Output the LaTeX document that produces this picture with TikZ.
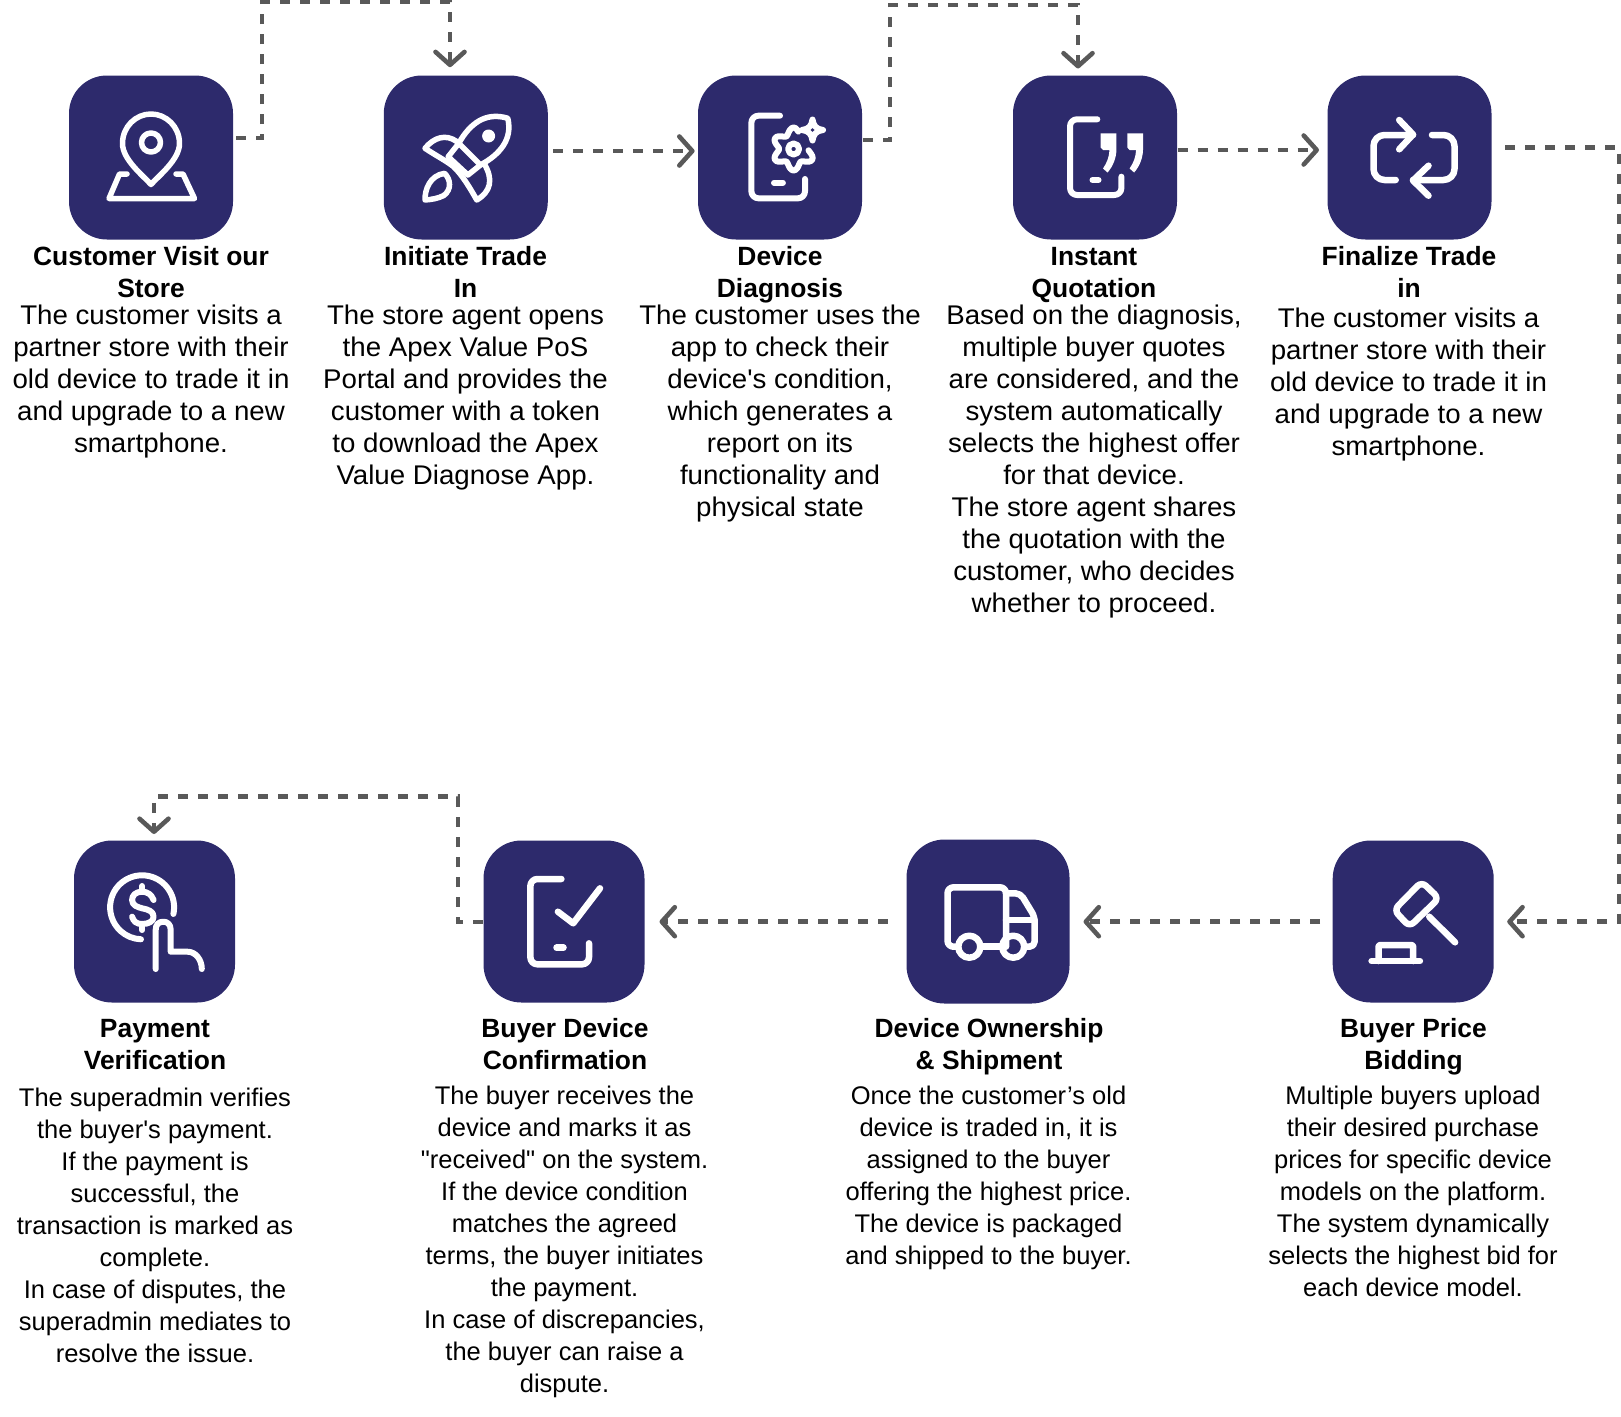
\documentclass[tikz,border=0pt]{standalone}
\usepackage{fontspec}
\setmainfont{Liberation Sans}[Ligatures=TeXOff]
\usetikzlibrary{arrows.meta}
\definecolor{navy}{HTML}{2D2A6C}
\definecolor{linkgrey}{HTML}{595959}
\tikzset{
  card/.style={fill=navy,rounded corners=38pt,inner sep=0pt,outer sep=0pt},
  icon/.style={draw=white,line width=6pt,line cap=round,line join=round},
  link/.style={draw=linkgrey,line width=4.6pt,dash pattern=on 10pt off 10pt,
    -{Straight Barb[length=13pt,width=29pt,line width=4.6pt,round]}},
  heading/.style={anchor=north,inner sep=0pt,align=center,font=\fontsize{26.4}{32}\selectfont\bfseries,execute at begin node=\strut},
  copytop/.style={anchor=north,inner sep=0pt,align=center,font=\fontsize{27}{32}\selectfont\addfontfeature{FakeStretch=1.025},execute at begin node=\strut},
  copylow/.style={anchor=north,inner sep=0pt,align=center,font=\fontsize{25.5}{32}\selectfont,execute at begin node=\strut}
}
\begin{document}
\begin{tikzpicture}[x=1pt,y=-1pt]
\useasboundingbox (0,0) rectangle (1621,1416);
\foreach \xc/\yc/\wdt/\hgt [count=\n] in {151/157.5/164/164,465.8/157.5/164/164,780/157.5/164/164,1095/157.5/164/164,1409.5/157.5/164/164,
    1413.2/921.5/161/162,988/921.5/163/164,564/921.5/161/162,154.5/921.5/161/162}{
  \node [card,minimum width=\wdt,minimum height=\hgt] (card\n) at (\xc,\yc) {};
}

\node [heading] (head1) at (151,246.6) {Customer Visit our\\Store};
\node [heading] (head2) at (465.5,246.6) {Initiate Trade\\In};
\node [heading] (head3) at (780,246.6) {Device\\Diagnosis};
\node [heading] (head4) at (1094,247) {Instant\\Quotation};
\node [heading] (head5) at (1409,246.6) {Finalize Trade\\in};
\node [heading] (head6) at (1413.5,1018.3) {Buyer Price\\Bidding};
\node [heading] (head7) at (989,1018.3) {Device Ownership\\\& Shipment};
\node [heading] (head8) at (565,1018.3) {Buyer Device\\Confirmation};
\node [heading] (head9) at (155,1018.8) {Payment\\Verification};

\node [copytop] (copy1) at (151,304.8) {The customer visits a\\partner store with their\\old device to trade it in\\and upgrade to a new\\smartphone.};
\node [copytop] (copy2) at (465.5,304.8) {The store agent opens\\the Apex Value PoS\\Portal and provides the\\customer with a token\\to download the Apex\\Value Diagnose App.};
\node [copytop] (copy3) at (780,304.8) {The customer uses the\\app to check their\\device's condition,\\which generates a\\report on its\\functionality and\\physical state};
\node [copytop] (copy4) at (1094,304.8) {Based on the diagnosis,\\multiple buyer quotes\\are considered, and the\\system automatically\\selects the highest offer\\for that device.\\The store agent shares\\the quotation with the\\customer, who decides\\whether to proceed.};
\node [copytop] (copy5) at (1408.5,307.5) {The customer visits a\\partner store with their\\old device to trade it in\\and upgrade to a new\\smartphone.};
\node [copylow] (copy6) at (1413,1085.5) {Multiple buyers upload\\their desired purchase\\prices for specific device\\models on the platform.\\The system dynamically\\selects the highest bid for\\each device model.};
\node [copylow] (copy7) at (988.5,1085.5) {Once the customer’s old\\device is traded in, it is\\assigned to the buyer\\offering the highest price.\\The device is packaged\\and shipped to the buyer.};
\node [copylow] (copy8) at (564.5,1085.5) {The buyer receives the\\device and marks it as\\"received" on the system.\\If the device condition\\matches the agreed\\terms, the buyer initiates\\the payment.\\In case of discrepancies,\\the buyer can raise a\\dispute.};
\node [copylow] (copy9) at (155,1087.5) {The superadmin verifies\\the buyer's payment.\\If the payment is\\successful, the\\transaction is marked as\\complete.\\In case of disputes, the\\superadmin mediates to\\resolve the issue.};

\coordinate (bendA) at (262,2);
\coordinate (bendB) at (890,5);
\coordinate (bendC) at (1619,147.7);
\coordinate (bendD) at (458,796.7);
\draw [link] ([shift={(3,-19.5)}]card1.east) -| (bendA) -| ([shift={(-15.8,-8.3)}]card2.north);
\draw [link] ([shift={(5.5,-6.5)}]card2.east) -- ([shift={(-3.4,-6.5)}]card3.west);
\draw [link] ([shift={(1,-17.5)}]card3.east) -| (bendB) -| ([shift={(-17,-7)}]card4.north);
\draw [link] ([shift={(0.6,-7.5)}]card4.east) -- ([shift={(-8.5,-7.5)}]card5.west);
\draw [link] ([shift={(13.5,-9.8)}]card5.east) -| (bendC) |- ([shift={(13.5,0.2)}]card6.east);
\draw [link] ([shift={(-12.7,0.2)}]card6.west) -- ([shift={(14,0.2)}]card7.east);
\draw [link] ([shift={(-19,0.2)}]card7.west) -- ([shift={(15,0.2)}]card8.east);
\draw [link] ([shift={(-1,0.5)}]card8.west) -| (bendD) -| ([shift={(-0.5,-6.5)}]card9.north);

\begin{scope}[shift={(card1.center)},icon,line width=5.5pt]
  \draw (0,27) .. controls (-8,18) and (-28.5,2) .. (-28.5,-14) .. controls (-28.5,-31) and (-15,-43.5) .. (0,-43.5)
    .. controls (15,-43.5) and (28.5,-31) .. (28.5,-14) .. controls (28.5,2) and (8,18) .. (0,27) -- cycle;
  \draw (0,-15) circle [radius=9.5];
  \draw (-24,16.5) -- (-31.5,16.5) -- (-42,41) -- (43.5,41) -- (32,16.5) -- (25,16.5);
\end{scope}
\begin{scope}[shift={(card2.center)},icon,line width=5.5pt]
  \draw (42,-39.2) .. controls (20,-46) and (4,-34) .. (-7,-14.2) -- (14.6,7.5) .. controls (34,-3) and (47,-18) .. (42,-39.2) -- cycle;
  \draw (-7,-14.2) -- (-17.6,-0.8) -- (2.1,17.5) -- (14.6,7.5);
  \draw (-8.8,-15.8) .. controls (-20,-24) and (-32,-20) .. (-40.8,-9.2) .. controls (-30,-2) and (-20,3) .. (-12.2,9.2) .. controls (-3,18) and (5,32) .. (11,42.5)
    .. controls (25,34) and (28,22) .. (18.1,5.8);
  \draw (-40.8,42.5) .. controls (-41,32) and (-36,18) .. (-21.2,15.8) .. controls (-15,22) and (-14,32) .. (-22,38) .. controls (-28,41) and (-34,42) .. (-40.8,42.5) -- cycle;
  \fill [white] (22.8,-21.5) circle [radius=6.5];
\end{scope}
\begin{scope}[shift={(card3.center)},icon]
  \draw [rounded corners=7pt] (0,-41.8) -- (-28.6,-41.8) -- (-28.6,40.8) -- (25,40.8) -- (25,21.5);
  \draw (-6,25.2) -- (2.9,25.2);
  \draw (13.6,-8.5) circle [radius=5.5];
  \draw plot [smooth,domain=5:285,samples=57] ({13.6+(18+3.5*cos(6*\x-180))*cos(\x)},{-8.5+(18+3.5*cos(6*\x-180))*sin(\x)});
  \draw (32.5,-38) .. controls (33.5,-31.5) and (36,-28.5) .. (43,-27.5) .. controls (36,-26.5) and (33.5,-23.5) .. (32.5,-17)
    .. controls (31.5,-23.5) and (29,-26.5) .. (22,-27.5) .. controls (29,-28.5) and (31.5,-31.5) .. (32.5,-38) -- cycle;
\end{scope}
\begin{scope}[shift={(card4.center)},icon]
  \draw [rounded corners=7pt] (2.3,-38.2) -- (-25,-38.2) -- (-25,37.5) -- (26.4,37.5) -- (26.4,19.2);
  \draw (-2.5,22.5) -- (3.5,22.5);
  \foreach \q in {0,26.6}{
    \fill [white,shift={(\q,0)}] (5.7,-24.2) -- (21.4,-24.2) -- (21.4,-8) .. controls (21.4,0) and (18,9) .. (12.5,15) -- (8,11) .. controls (12,5) and (14,0) .. (14.5,-7.5) -- (8,-7.5) -- (5.7,-10) -- cycle;
  }
\end{scope}
\begin{scope}[shift={(card5.center)},icon,line width=6.5pt]
  \draw [rounded corners=11pt] (3.5,-22.5) -- (-36,-22.5) -- (-36,22.5) -- (-13.8,22.5);
  \draw (-10.3,-37.5) -- (3.5,-23) -- (-10.3,-8.2);
  \draw [rounded corners=11pt] (22.5,-22.5) -- (45,-22.5) -- (45,22.5) -- (3.5,22.5);
  \draw (19,8.2) -- (3.5,23) -- (19,38.2);
\end{scope}
\begin{scope}[shift={(card6.center)},icon,line width=6.5pt]
  \draw [rounded corners=6pt] (8.4,-39.8) -- (25.7,-23.2) -- (-3.7,5.2) -- (-19.2,-11.5) -- cycle;
  \draw (16,-4.8) -- (41.9,20.8);
  \draw (-41.6,39.5) -- (6.7,39.5);
  \draw [rounded corners=2pt] (-34.7,39.5) -- (-34.7,23.5) -- (0,23.5) -- (0,39.5);
\end{scope}
\begin{scope}[shift={(card7.center)},icon,line width=6.5pt]
  \draw [rounded corners=6pt] (-31.9,25.2) -- (-40.5,25.2) -- (-40.5,-34.2) -- (18,-34.2) -- (18,25.2);
  \draw (-6.9,25.2) -- (14.5,25.2);
  \draw [rounded corners=5pt] (18,-28.2) -- (32.4,-28.2) -- (46.6,-4.8) -- (46.6,25.2) -- (37.7,25.2);
  \draw (18,-1.5) -- (46.6,-1.5);
  \draw (-18.7,25.2) circle [radius=11];
  \draw (25.2,25.2) circle [radius=11];
\end{scope}
\begin{scope}[shift={(card8.center)},icon,line width=6.5pt]
  \draw [rounded corners=7pt] (-2.6,-42.5) -- (-33.6,-42.5) -- (-33.6,42.8) -- (25,42.8) -- (25,21.8);
  \draw (-7.5,26.2) -- (-0.5,26.2);
  \draw (-6.1,-9.8) -- (9.2,1.8) -- (36,-33.2);
\end{scope}
\begin{scope}[shift={(card9.center)},icon]
  \draw (-12.4,-14.2) ++(12:32) arc [start angle=12,end angle=-268,radius=32];
  \draw (-0.9,-21.5) .. controls (-3,-27) and (-7,-29.8) .. (-12.4,-29.8) .. controls (-19,-29.8) and (-22.4,-26) .. (-22.4,-21.5)
    .. controls (-22.4,-16) and (-17,-14.5) .. (-12.4,-13.2) .. controls (-6,-12) and (-0.9,-10) .. (-0.9,-4.8) .. controls (-0.9,0) and (-6,2.5) .. (-12.4,2.5) .. controls (-18,2.5) and (-21,0) .. (-22.4,-4.8);
  \draw (-12.4,-35.5) -- (-12.4,-29.8);
  \draw (-12.4,2.5) -- (-12.4,8.5);
  \draw (1.2,47.5) -- (1.2,8.5) .. controls (1.2,3) and (4,0.2) .. (9,0.2) .. controls (13,0.2) and (16.2,3) .. (16.2,8.5) -- (16.2,30.2) -- (33,30.2) .. controls (41,30.2) and (47.3,38) .. (47.3,47.5);
\end{scope}
\end{tikzpicture}
\end{document}
